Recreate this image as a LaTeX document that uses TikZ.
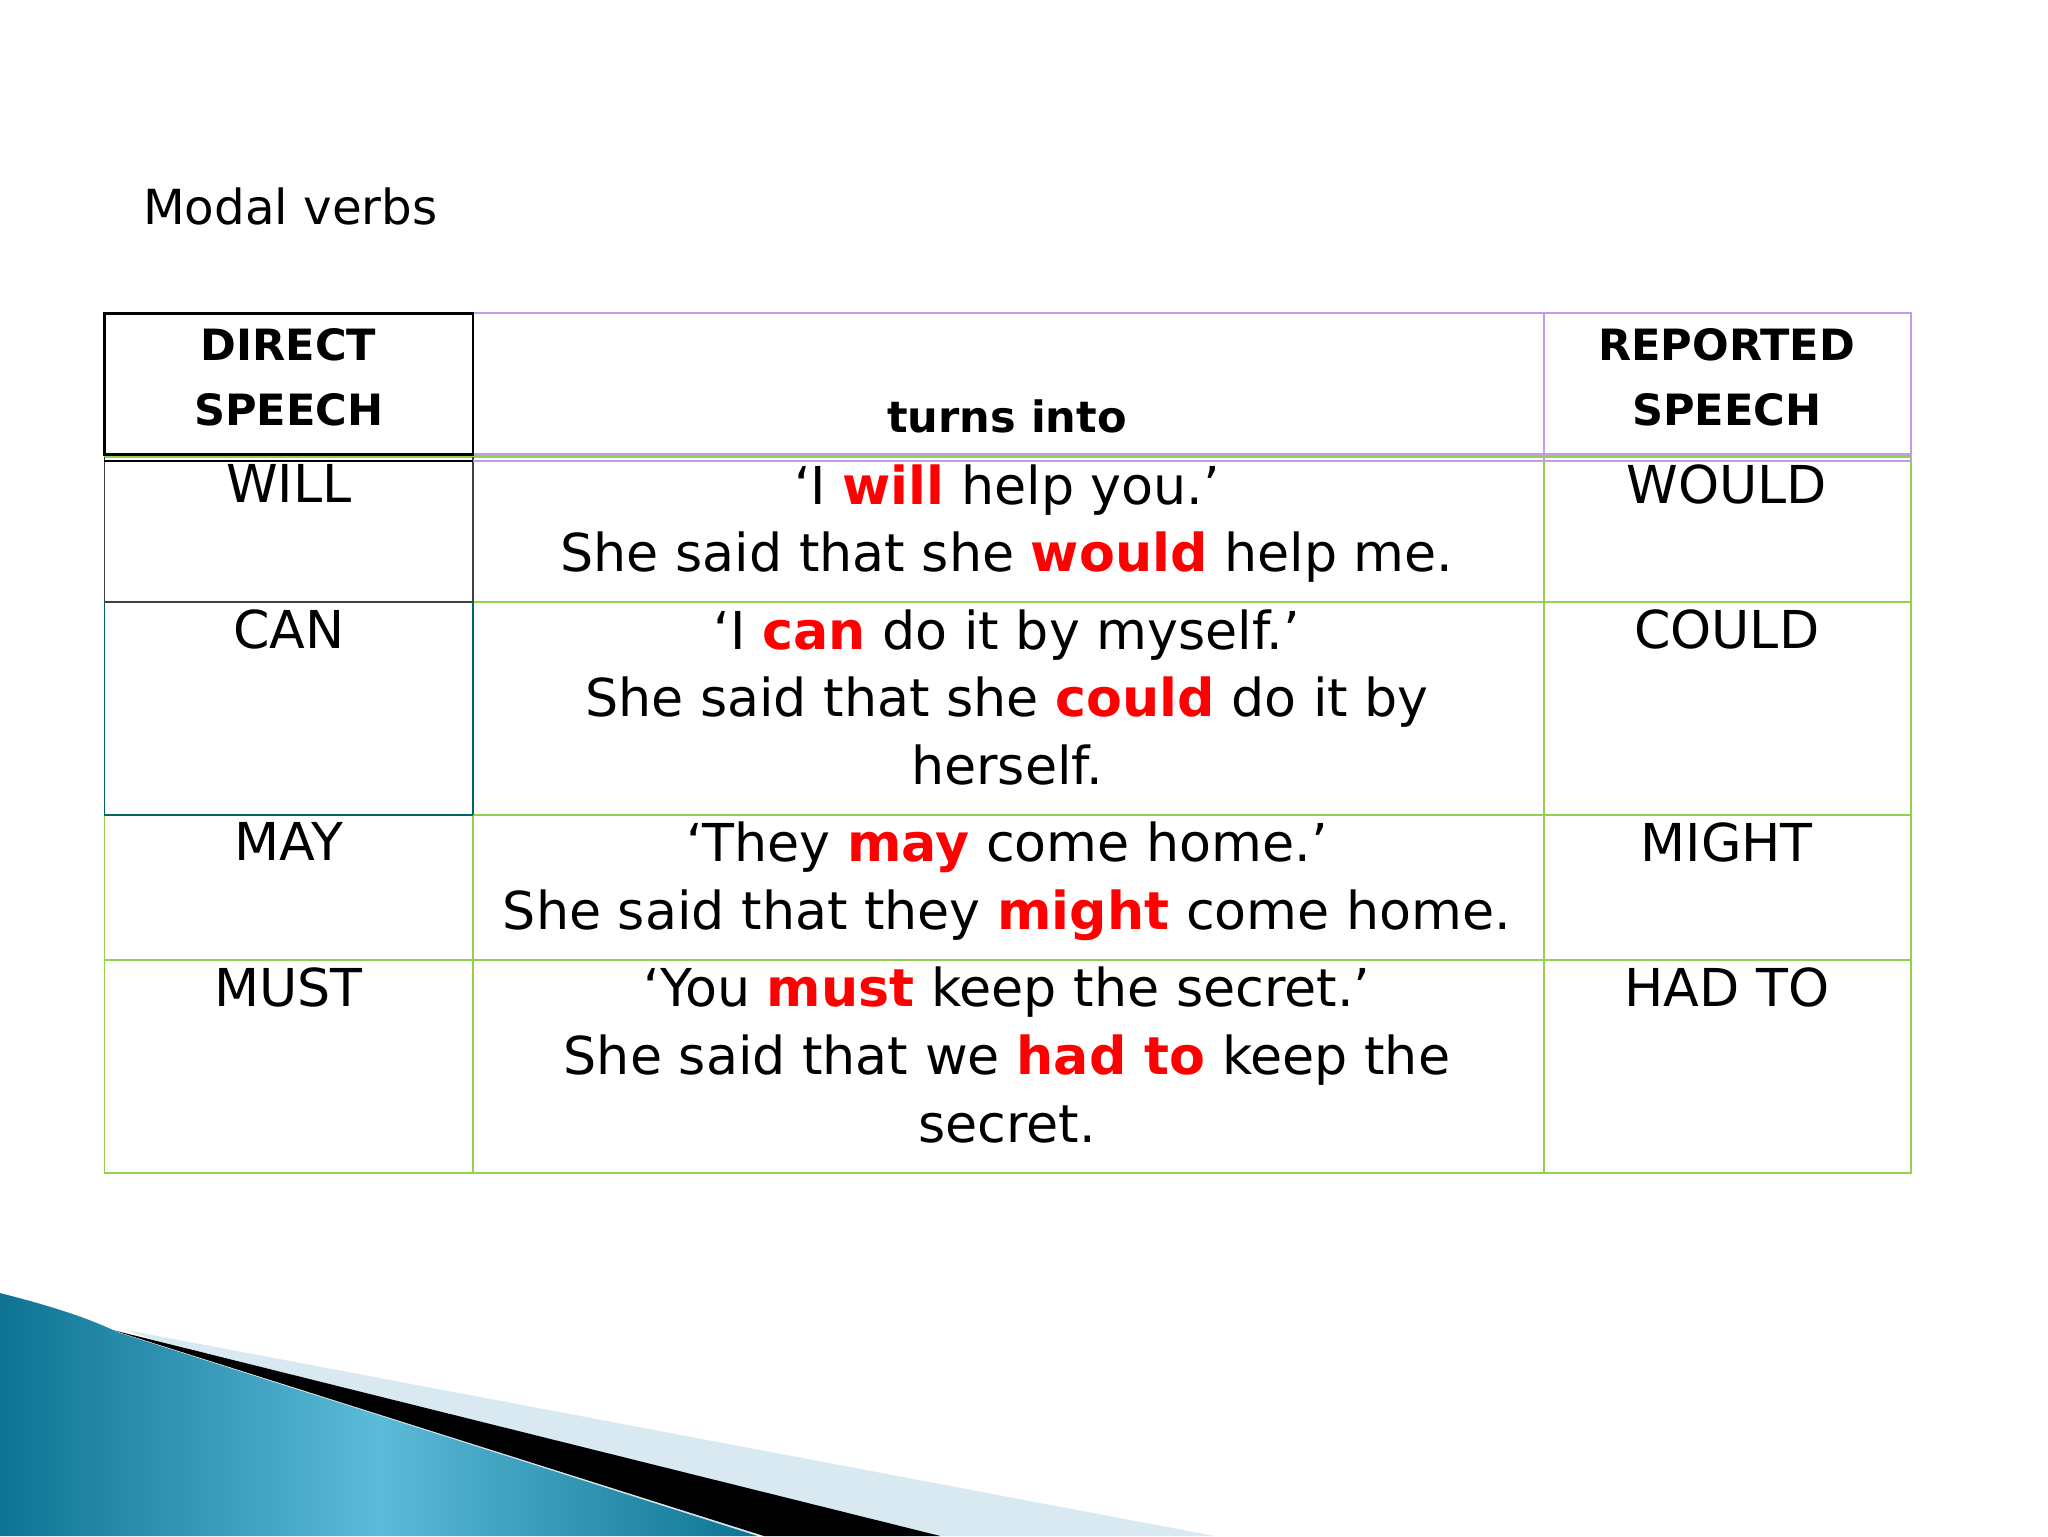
\documentclass[tikz,border=0pt]{standalone}
\usepackage{fontspec}
\setmainfont{DejaVu Sans}
\begin{document}
\begin{tikzpicture}[x=1pt,y=-1pt,
  cell/.style={align=center,anchor=north,font=\fontsize{40}{52}\selectfont},
  hd/.style={align=center,font=\fontsize{33}{50}\selectfont\bfseries}]
\useasboundingbox (0,0) rectangle (1568,1176);
\definecolor{grn}{HTML}{92D050}
\definecolor{lav}{HTML}{C39BE8}
\definecolor{blu1}{HTML}{0E7393}
\definecolor{blu2}{HTML}{5BBBD8}
\definecolor{pale}{HTML}{D8E9F2}
% decoration
\fill[pale] (95,1018) -- (930,1176) -- (560,1176) -- cycle;
\fill[black] (85,1018) -- (720,1176) -- (585,1176) -- cycle;
\shade[shading angle=60,left color=blu1,right color=blu1,middle color=blu2] (0,990) .. controls (40,1000) and (70,1010) .. (90,1020) -- (580,1176) -- (0,1176) -- cycle;
\node[anchor=west,font=\fontsize{37}{44}\selectfont] (title) at (106,158) {Modal verbs};
% table lines
\draw[grn,line width=1.5] (80,350) rectangle (1463,898);
\draw[grn,line width=1.5] (80,461) -- (1463,461) (80,624) -- (1463,624) (80,735) -- (1463,735);
\draw[grn,line width=1.5] (362,350) -- (362,898) (1182,350) -- (1182,898);
\draw[black!75,line width=1.5] (80,350) -- (80,624) (362,350) -- (362,461) (80,461) -- (362,461);
\draw[teal!80!black,line width=1.5] (362,461) -- (362,624) (80,461)--(80,624) (80,624) -- (362,624);
\draw[lav,line width=1.5] (362,240) -- (1463,240) -- (1463,350) (1182,240) -- (1182,350);
\draw[lav,line width=2] (362,348) -- (1463,348) (362,353) -- (1463,353);
\draw[black,line width=1.8] (80,240) rectangle (362,348);
\draw[black,line width=1.8] (80,353) -- (362,353);
% header
\node[hd] (h1) at (221,289) {DIRECT\\SPEECH};
\node[hd] (h2) at (771,319) {turns into};
\node[hd] (h3) at (1322,289) {REPORTED\\SPEECH};
% rows
\node[cell] (a1) at (221,352) {WILL};
\node[cell] (b1) at (771,352) {‘I {\color{red}\bfseries will} help you.’\\She said that she {\color{red}\bfseries would} help me.};
\node[cell] (c1) at (1322,352) {WOULD};
\node[cell] (a2) at (221,463) {CAN};
\node[cell] (b2) at (771,463) {‘I {\color{red}\bfseries can} do it by myself.’\\She said that she {\color{red}\bfseries could} do it by\\herself.};
\node[cell] (c2) at (1322,463) {COULD};
\node[cell] (a3) at (221,626) {MAY};
\node[cell] (b3) at (771,626) {‘They {\color{red}\bfseries may} come home.’\\She said that they {\color{red}\bfseries might} come home.};
\node[cell] (c3) at (1322,626) {MIGHT};
\node[cell] (a4) at (221,737) {MUST};
\node[cell] (b4) at (771,737) {‘You {\color{red}\bfseries must} keep the secret.’\\She said that we {\color{red}\bfseries had to} keep the\\secret.};
\node[cell] (c4) at (1322,737) {HAD TO};
\end{tikzpicture}
\end{document}
